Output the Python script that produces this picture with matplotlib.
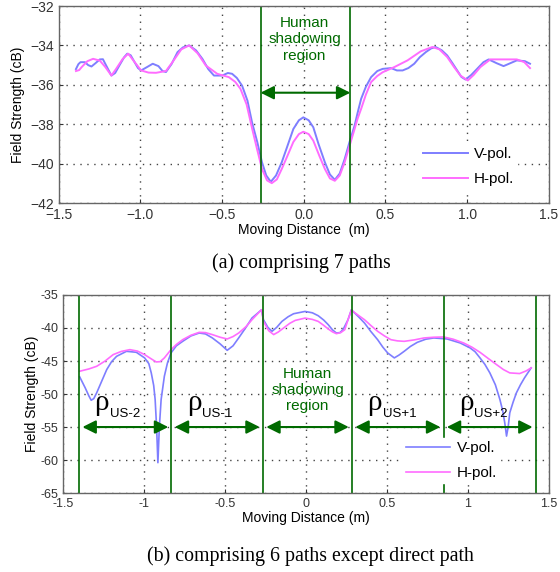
import matplotlib
matplotlib.use("Agg")
import matplotlib.pyplot as plt

# ---- data ----
# (a) comprising 7 paths
a_v_x = [-1.395, -1.38, -1.367, -1.34, -1.32, -1.30, -1.275, -1.249, -1.23, -1.205,
         -1.178, -1.155, -1.128, -1.10, -1.081, -1.06, -1.036, -1.015, -0.996, -0.96,
         -0.925, -0.89, -0.865, -0.844, -0.81, -0.773, -0.74, -0.702, -0.66, -0.621,
         -0.585, -0.55, -0.5, -0.465, -0.439, -0.41, -0.378, -0.345, -0.317, -0.285,
         -0.256, -0.23, -0.202, -0.17, -0.135, -0.10, -0.064, -0.03, -0.003, 0.03,
         0.058, 0.09, 0.129, 0.16, 0.19, 0.22, 0.25, 0.28, 0.311, 0.33,
         0.351, 0.38, 0.412, 0.45, 0.483, 0.534, 0.57, 0.605, 0.64, 0.676,
         0.71, 0.747, 0.78, 0.807, 0.845, 0.878, 0.91, 0.939, 0.965, 0.99,
         1.025, 1.061, 1.10, 1.132, 1.18, 1.223, 1.265, 1.304, 1.354, 1.385]
a_v_y = [-35.2, -34.95, -34.85, -34.85, -35.0, -35.07, -34.9, -34.71, -34.7, -35.1,
         -35.53, -35.4, -35.0, -34.6, -34.42, -34.5, -34.85, -35.15, -35.27, -35.1,
         -34.93, -35.05, -35.3, -35.35, -34.95, -34.34, -34.1, -34.0, -34.25, -34.68,
         -35.2, -35.53, -35.53, -35.4, -35.44, -35.65, -36.04, -36.8, -37.9, -38.9,
         -39.93, -40.6, -40.92, -40.6, -39.93, -39.1, -38.24, -37.8, -37.65, -37.8,
         -38.15, -39.0, -39.93, -40.55, -40.82, -40.5, -39.77, -38.9, -38.07, -37.4,
         -36.71, -36.1, -35.61, -35.3, -35.19, -35.15, -35.27, -35.27, -35.15, -34.93,
         -34.6, -34.34, -34.15, -34.08, -34.25, -34.51, -34.9, -35.27, -35.6, -35.73,
         -35.5, -35.19, -34.85, -34.71, -34.9, -35.05, -34.9, -34.76, -34.8, -34.93]
a_h_x = [-1.395, -1.375, -1.36, -1.325, -1.29, -1.249, -1.215, -1.178, -1.15, -1.11,
         -1.075, -1.04, -0.996, -0.95, -0.905, -0.844, -0.8, -0.75, -0.702, -0.65,
         -0.6, -0.53, -0.459, -0.42, -0.388, -0.35, -0.317, -0.285, -0.256, -0.225,
         -0.196, -0.165, -0.135, -0.10, -0.064, -0.03, -0.003, 0.03, 0.058, 0.095,
         0.129, 0.16, 0.19, 0.22, 0.25, 0.28, 0.311, 0.33, 0.351, 0.38,
         0.412, 0.45, 0.483, 0.554, 0.635, 0.716, 0.787, 0.83, 0.878, 0.92,
         0.959, 1.004, 1.04, 1.081, 1.142, 1.223, 1.304, 1.35, 1.385]
a_h_y = [-35.3, -35.25, -35.1, -34.8, -34.68, -34.77, -35.1, -35.53, -35.2, -34.7,
         -34.42, -34.8, -35.27, -35.38, -35.39, -35.3, -34.8, -34.2, -34.0, -34.4,
         -35.02, -35.44, -35.61, -35.85, -36.2, -37.0, -38.2, -39.3, -40.27, -40.85,
         -40.99, -40.8, -40.27, -39.6, -38.9, -38.5, -38.38, -38.5, -38.83, -39.6,
         -40.27, -40.75, -40.87, -40.6, -39.93, -39.1, -38.24, -37.7, -37.22, -36.5,
         -35.86, -35.55, -35.36, -35.1, -34.76, -34.3, -34.08, -34.2, -34.59, -35.1,
         -35.53, -35.78, -35.5, -35.1, -34.71, -34.71, -34.71, -34.85, -35.15]

# (b) comprising 6 paths except direct path
b_v_x = [-1.397, -1.363, -1.34, -1.326, -1.31, -1.292, -1.26, -1.23, -1.2, -1.169,
         -1.108, -1.047, -0.996, -0.97, -0.955, -0.94, -0.931, -0.922, -0.914, -0.905,
         -0.894, -0.874, -0.855, -0.833, -0.8, -0.761, -0.71, -0.659, -0.62, -0.578,
         -0.53, -0.486, -0.45, -0.415, -0.37, -0.333, -0.30, -0.274, -0.262, -0.235,
         -0.209, -0.18, -0.148, -0.11, -0.076, -0.005, 0.04, 0.076, 0.11, 0.138,
         0.165, 0.188, 0.21, 0.229, 0.26, 0.281, 0.291, 0.325, 0.362, 0.40,
         0.443, 0.475, 0.505, 0.546, 0.575, 0.607, 0.645, 0.688, 0.74, 0.79,
         0.872, 0.953, 1.014, 1.045, 1.075, 1.105, 1.136, 1.17, 1.198, 1.215,
         1.228, 1.239, 1.249, 1.259, 1.28, 1.30, 1.325, 1.35, 1.391]
b_v_y = [-47.4, -49.06, -50.3, -50.94, -50.7, -49.82, -48.0, -46.3, -45.1, -44.29,
         -43.53, -43.68, -44.53, -45.4, -46.8, -48.7, -50.83, -55.0, -60.4, -55.0,
         -50.83, -47.3, -45.3, -43.78, -42.7, -42.02, -41.2, -40.76, -40.9, -41.5,
         -42.4, -43.38, -42.7, -41.5, -39.9, -38.49, -37.8, -37.24, -38.75, -39.9,
         -40.5, -39.9, -39.0, -38.3, -37.84, -37.49, -37.7, -38.14, -38.8, -39.5,
         -40.3, -40.76, -40.7, -40.26, -38.75, -37.24, -37.49, -38.3, -39.25, -40.5,
         -41.77, -42.9, -43.78, -44.53, -44.1, -43.53, -42.8, -42.17, -41.7, -41.51,
         -41.66, -42.27, -43.02, -43.6, -44.53, -45.5, -46.8, -48.6, -50.83, -52.5,
         -54.35, -56.37, -55.0, -52.84, -51.2, -49.82, -48.6, -47.55, -46.04]
b_h_x = [-1.397, -1.34, -1.292, -1.24, -1.19, -1.14, -1.087, -1.04, -0.996, -0.96,
         -0.925, -0.9, -0.874, -0.833, -0.8, -0.761, -0.71, -0.659, -0.62, -0.578,
         -0.53, -0.486, -0.45, -0.415, -0.37, -0.333, -0.30, -0.274, -0.262, -0.23,
         -0.199, -0.17, -0.138, -0.10, -0.066, -0.005, 0.04, 0.076, 0.11, 0.138,
         0.165, 0.188, 0.215, 0.24, 0.26, 0.281, 0.291, 0.325, 0.362, 0.40,
         0.443, 0.485, 0.525, 0.565, 0.607, 0.67, 0.729, 0.79, 0.851, 0.91,
         0.974, 1.025, 1.075, 1.125, 1.177, 1.22, 1.259, 1.32, 1.36, 1.391]
b_h_y = [-46.55, -46.2, -45.8, -45.0, -44.03, -43.55, -43.28, -43.5, -44.03, -44.6,
         -45.14, -45.1, -44.53, -43.28, -42.5, -41.77, -41.1, -40.66, -40.7, -41.0,
         -41.4, -41.66, -41.3, -40.76, -39.8, -38.75, -37.9, -37.24, -39.0, -40.4,
         -41.0, -40.6, -40.0, -39.3, -38.85, -38.5, -38.7, -39.0, -39.6, -40.15,
         -40.6, -40.86, -40.7, -40.26, -38.75, -37.24, -37.49, -38.1, -38.75, -39.6,
         -40.5, -41.2, -41.77, -41.95, -42.02, -41.8, -41.51, -41.4, -41.36, -41.7,
         -42.27, -42.9, -43.68, -44.6, -45.54, -46.3, -46.8, -46.9, -46.5, -46.04]

shadow_edges = [-0.265, 0.285]
region_edges = [-1.40, -0.83, -0.265, 0.285, 0.85, 1.42]
region_labels = ["US-2", "US-1", None, "US+1", "US+2"]

a_yticks = [-42, -40, -38, -36, -34, -32]
b_yticks = [-65, -60, -55, -50, -45, -40, -35]
b_yticklabels = ["-65", "-60", "-55", "-50", "-45", "-40", "-35"]
xticks = [-1.5, -1, -0.5, 0, 0.5, 1, 1.5]
b_xticklabels = ["-1.5", "-1", "-0.5", "0", "0.5", "1", "1.5"]

# ---- styling ----
plt.rcParams['font.family'] = ['Liberation Sans', 'DejaVu Sans']
BLUE = '#7e7eff'
MAG = '#ff6cff'
GREEN = '#006a00'

fig = plt.figure(figsize=(5.6, 5.72), dpi=100)
ax1 = fig.add_axes([0.105, 0.645, 0.875, 0.3445])
ax2 = fig.add_axes([0.1125, 0.138, 0.8675, 0.3463])


def style_axes(ax, fs):
    ax.grid(True, linestyle=(0, (1, 4)), color='#444444', linewidth=1.0)
    ax.tick_params(direction='in', labelsize=fs, length=3, colors='#333333')
    for s in ax.spines.values():
        s.set_color('#666666')
        s.set_linewidth(1.0)


def add_legend(ax, x, y):
    leg = ax.legend(loc='center left', bbox_to_anchor=(x, y), frameon=True,
                    fontsize=11, handlelength=2.9, handletextpad=0.4,
                    labelspacing=0.75, borderpad=0.2, borderaxespad=0)
    leg.get_frame().set_facecolor('white')
    leg.get_frame().set_edgecolor('white')
    leg.get_frame().set_alpha(1.0)
    return leg


# top panel
ax1.plot(a_v_x, a_v_y, color=BLUE, lw=1.4, label='V-pol.')
ax1.plot(a_h_x, a_h_y, color=MAG, lw=1.4, label='H-pol.')
ax1.set_xlim(-1.5, 1.5)
ax1.set_ylim(-42, -32)
ax1.set_xticks(xticks)
ax1.set_yticks(a_yticks)
style_axes(ax1, 10)
for xe in shadow_edges:
    ax1.axvline(xe, color=GREEN, lw=1.2)
ax1.annotate('', xy=(shadow_edges[0], -36.4), xytext=(shadow_edges[1], -36.4),
             arrowprops=dict(arrowstyle='<|-|>', color=GREEN, lw=1.5,
                             mutation_scale=20, shrinkA=0, shrinkB=0))
ax1.text(0.005, -32.5, 'Human\nshadowing\nregion', color=GREEN, fontsize=11,
         ha='center', va='top', linespacing=1.22)
ax1.set_ylabel('Field Strength (cB)', fontsize=10, labelpad=4)
ax1.set_xlabel('Moving Distance  (m)', fontsize=10, labelpad=1)
add_legend(ax1, 0.738, 0.185)

# bottom panel
ax2.plot(b_v_x, b_v_y, color=BLUE, lw=1.2, label='V-pol.')
ax2.plot(b_h_x, b_h_y, color=MAG, lw=1.2, label='H-pol.')
ax2.set_xlim(-1.5, 1.5)
ax2.set_ylim(-65, -35)
ax2.set_xticks(xticks)
ax2.set_xticklabels(b_xticklabels)
ax2.set_yticks(b_yticks)
ax2.set_yticklabels(b_yticklabels)
style_axes(ax2, 9)
for xe in region_edges:
    ax2.axvline(xe, color=GREEN, lw=1.2)
for i in range(len(region_edges) - 1):
    x0, x1 = region_edges[i], region_edges[i + 1]
    ax2.annotate('', xy=(x0 + 0.02, -55), xytext=(x1 - 0.02, -55),
                 arrowprops=dict(arrowstyle='<|-|>', color=GREEN, lw=1.5,
                                 mutation_scale=20, shrinkA=0, shrinkB=0))
    lab = region_labels[i]
    if lab is not None:
        xm = x0 + 0.14
        ax2.text(xm, -51.3, '\u03c1', fontsize=21, ha='center', va='center',
                 family=['Liberation Serif'])
        ax2.text(xm + 0.05, -53.0, lab, fontsize=9.5, ha='left', va='center')
ax2.text(0.01, -49.4, 'Human\nshadowing\nregion', color=GREEN, fontsize=11,
         ha='center', va='center', linespacing=1.18)
ax2.set_ylabel('Field Strength (cB)', fontsize=10, labelpad=1)
ax2.set_xlabel('Moving Distance (m)', fontsize=10, labelpad=1)
add_legend(ax2, 0.70, 0.164)

# captions
fig.text(0.539, 0.540, '(a) comprising 7 paths', fontsize=14.3,
         family=['Liberation Serif'], ha='center', va='center')
fig.text(0.555, 0.027, '(b) comprising 6 paths except direct path', fontsize=14.3,
         family=['Liberation Serif'], ha='center', va='center')

fig.savefig('out.png', dpi=100)
